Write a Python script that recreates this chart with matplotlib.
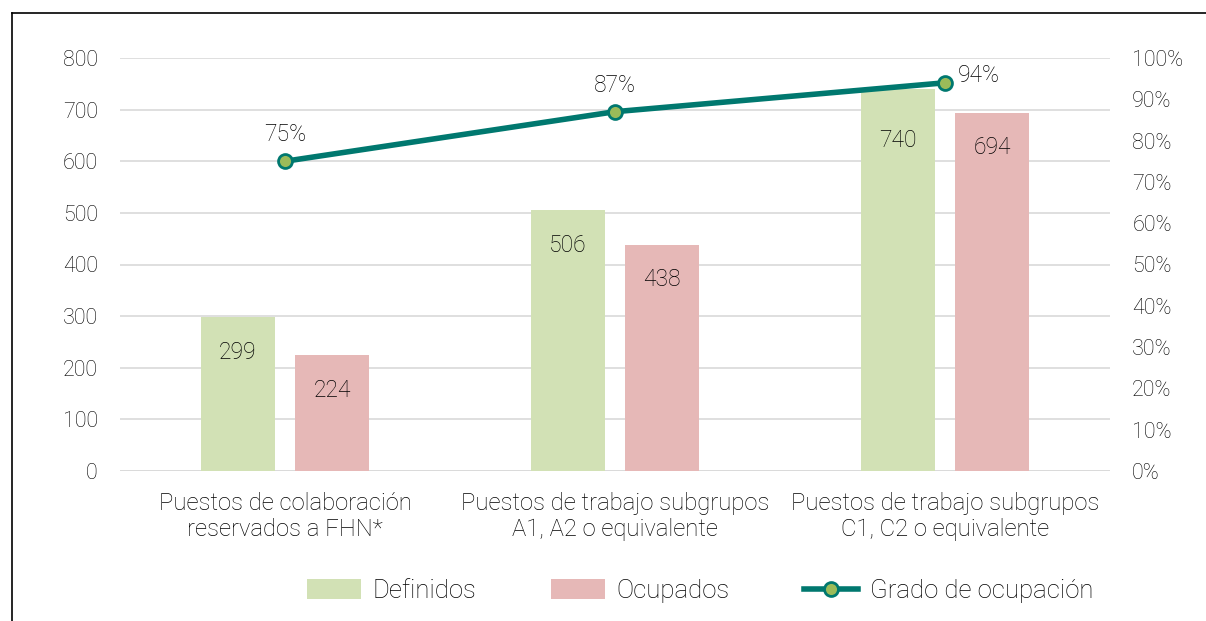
import matplotlib
matplotlib.use("Agg")
import matplotlib.pyplot as plt
import numpy as np
from matplotlib.lines import Line2D
from matplotlib.patches import Patch

categories = ["Puestos de colaboración\nreservados a FHN*",
              "Puestos de trabajo subgrupos\nA1, A2 o equivalente",
              "Puestos de trabajo subgrupos\nC1, C2 o equivalente"]
definidos = [299, 506, 740]
ocupados = [224, 438, 694]
grado = [75, 87, 94]
left_ticks = [0, 100, 200, 300, 400, 500, 600, 700, 800]
right_ticks = [0, 10, 20, 30, 40, 50, 60, 70, 80, 90, 100]

plt.rcParams['font.family'] = ['Roboto', 'DejaVu Sans']
plt.rcParams['font.weight'] = 'light'
green = "#D2E1B5"
pink = "#E6B8B7"
teal = "#00786F"
mgreen = "#9BBB59"
txt = "#000000"
FS = 15.5

fig = plt.figure(figsize=(12.06, 6.21), dpi=100)
ax = fig.add_axes([120/1206, 1-471/621, 990/1206, 413/621])
x = np.arange(len(categories))
w = 0.224
off = 0.143
ax.bar(x - off, definidos, w, color=green, zorder=2)
ax.bar(x + off, ocupados, w, color=pink, zorder=2)
ax.set_xlim(-0.5, 2.5)
ax.set_ylim(0, 800)
ax.set_yticks(left_ticks)
ax.set_yticklabels([str(t) for t in left_ticks], fontsize=FS, color=txt)
ax.tick_params(axis='y', length=0, pad=16)
ax.tick_params(axis='x', length=0, pad=15)
ax.set_xticks(x)
ax.set_xticklabels(categories, fontsize=17.2, color=txt, linespacing=1.2)
ax.grid(axis='y', color="#d9d9d9", linewidth=1.2, zorder=0)
ax.set_axisbelow(True)
for s in ax.spines.values():
    s.set_visible(False)
ax.axhline(0, color="#d9d9d9", linewidth=1.2, zorder=1)

for i, v in enumerate(definidos):
    d = 100 if v == max(definidos) else 70
    ax.text(x[i] - off, v - d, str(v), ha='center', va='center', fontsize=16.5, color=txt, zorder=3)
for i, v in enumerate(ocupados):
    ax.text(x[i] + off, v - 68, str(v), ha='center', va='center', fontsize=16.5, color=txt, zorder=3)

ax2 = ax.twinx()
ax2.set_ylim(0, 100)
ax2.set_yticks(right_ticks)
ax2.set_yticklabels([f"{t}%" for t in right_ticks], fontsize=FS, color=txt)
ax2.tick_params(axis='y', length=0, pad=16)
for s in ax2.spines.values():
    s.set_visible(False)
ax2.plot(x, grado, color=teal, linewidth=4, marker='o', markersize=10,
         markerfacecolor=mgreen, markeredgecolor=teal, markeredgewidth=2, zorder=5)
for i, v in enumerate(grado):
    if i == len(grado) - 1:
        ax2.annotate(f"{v}%", (x[i], v), xytext=(9, 5), textcoords='offset points',
                     ha='left', va='center', fontsize=16.5, color=txt)
    else:
        ax2.annotate(f"{v}%", (x[i], v), xytext=(0, 19), textcoords='offset points',
                     ha='center', va='center', fontsize=16.5, color=txt)

handles = [Patch(facecolor=green, edgecolor='none'),
           Patch(facecolor=pink, edgecolor='none'),
           Line2D([0], [0], color=teal, linewidth=4, marker='o', markersize=10,
                  markerfacecolor=mgreen, markeredgecolor=teal, markeredgewidth=2)]
fig.legend(handles, ["Definidos", "Ocupados", "Grado de ocupación"],
           loc='center', bbox_to_anchor=(700/1206, 1-591/621), ncol=3, frameon=False,
           fontsize=18.5, handlelength=2.1, handleheight=0.8, columnspacing=2.9, handletextpad=0.45)

fig.add_artist(Line2D([12/1206, 12/1206], [0, 1-13/621], transform=fig.transFigure, color='black', linewidth=1.2))
fig.add_artist(Line2D([12/1206, 1], [1-13/621, 1-13/621], transform=fig.transFigure, color='black', linewidth=1.2))

fig.savefig("out.png", dpi=100)
